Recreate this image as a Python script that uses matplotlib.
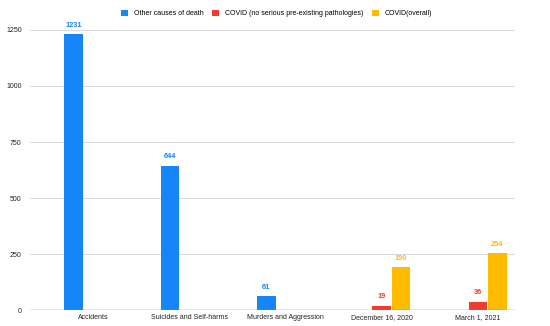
import numpy as np
import matplotlib.pyplot as plt

categories = ['Accidents', 'Suicides and Self-harms', 'Murders and Aggression',
              'December 16, 2020', 'March 1, 2021']
other_causes = [1231, 644, 61, np.nan, np.nan]
covid_no_path = [np.nan, np.nan, np.nan, 19, 36]
covid_overall = [np.nan, np.nan, np.nan, 190, 254]
series_names = ['Other causes of death', 'COVID (no serious pre-existing pathologies)', 'COVID(overall)']
colors = ['#1585F7', '#F2392E', '#FFBB00']

plt.rcParams['font.family'] = ['Liberation Sans', 'DejaVu Sans']

fig = plt.figure(figsize=(5.5, 3.26), dpi=100)
ax = fig.add_axes([0.0545, 0.049, 0.882, 0.859])

x = np.arange(len(categories))
w = 0.2
handles = []
for i, (vals, name, c) in enumerate(zip([other_causes, covid_no_path, covid_overall], series_names, colors)):
    pos = x + (i - 1) * w
    b = ax.bar(pos, vals, width=w * 0.97, color=c, label=name, zorder=3)
    handles.append(b)
    for p, v in zip(pos, vals):
        if not np.isnan(v):
            ax.text(p, v + 25, str(int(v)), ha='center', va='bottom', fontsize=5.3,
                    color=c, fontweight='bold', clip_on=False)

ax.set_xlim(-0.655, 4.385)
ax.set_ylim(0, 1250)
ax.set_yticks([0, 250, 500, 750, 1000, 1250])
ax.set_xticks(x)
ax.set_xticklabels(categories)
ax.tick_params(axis='both', length=0, labelsize=5.0, colors='#222222')
ax.tick_params(axis='y', pad=6)
ax.tick_params(axis='x', pad=3)
ax.grid(axis='y', color='#d9d9d9', linewidth=0.7, zorder=0)
for s in ax.spines.values():
    s.set_visible(False)
ax.axhline(0, color='#888888', linewidth=1.0, zorder=4)

fig.legend(handles=handles, loc='upper center', bbox_to_anchor=(0.503, 0.99), ncol=3,
           frameon=False, fontsize=5.0, handlelength=1.0, handleheight=1.0,
           columnspacing=1.3, handletextpad=0.8)

fig.savefig('out.png', dpi=100)
